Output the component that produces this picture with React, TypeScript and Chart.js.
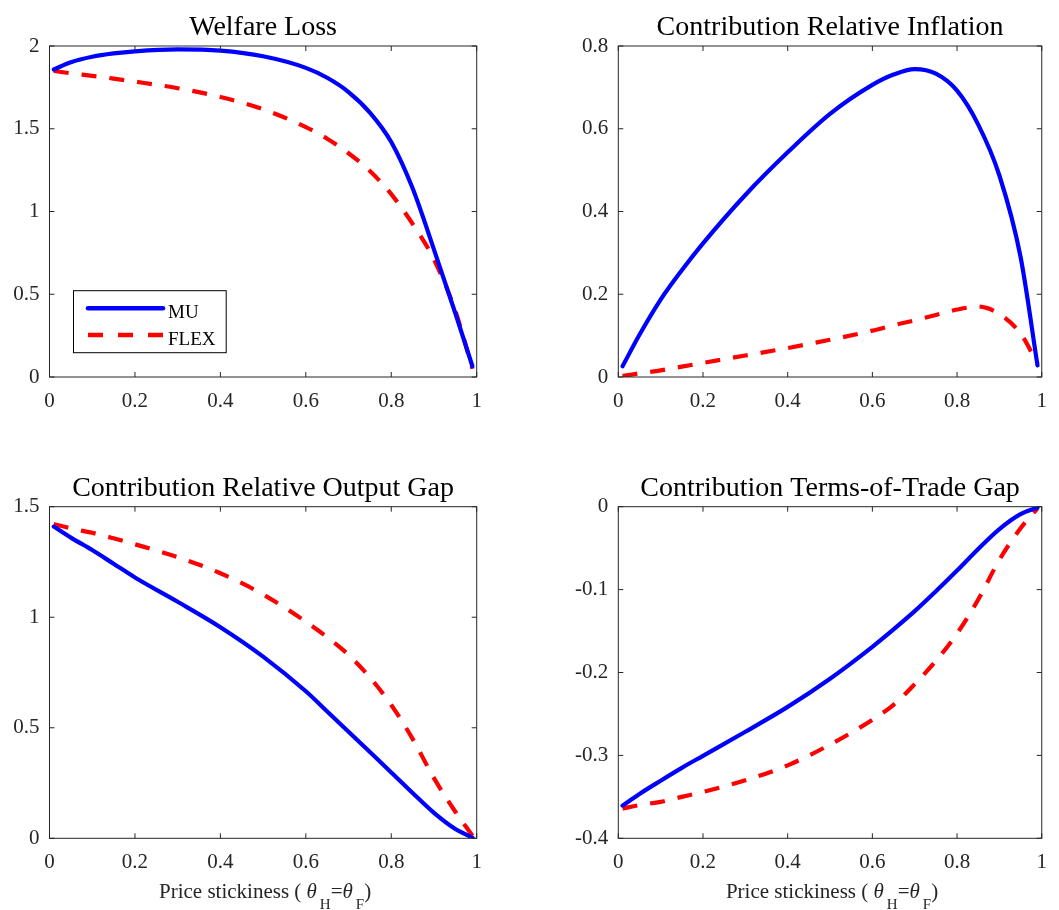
import React, { useEffect, useRef } from "react";
import { Chart, registerables } from "chart.js";

Chart.register(...registerables);

// ---------- data ----------
const theta = [0.01, 0.05, 0.1, 0.15, 0.2, 0.3, 0.4, 0.5, 0.6, 0.65, 0.7, 0.75, 0.8, 0.85, 0.9, 0.95, 0.99];
const seriesNames = ["MU", "FLEX"];

const welfareMU = [1.858, 1.902, 1.935, 1.955, 1.968, 1.98, 1.972, 1.938, 1.868, 1.808, 1.722, 1.598, 1.42, 1.14, 0.77, 0.385, 0.065];
const welfareFLEX = [1.849, 1.835, 1.82, 1.803, 1.785, 1.745, 1.692, 1.618, 1.51, 1.44, 1.352, 1.245, 1.105, 0.925, 0.71, 0.4, 0.05];

const inflationMU = [0.026, 0.102, 0.187, 0.258, 0.323, 0.44, 0.543, 0.636, 0.706, 0.731, 0.744, 0.733, 0.692, 0.61, 0.487, 0.29, 0.028];
const inflationFLEX = [0.002, 0.009, 0.016, 0.025, 0.034, 0.052, 0.07, 0.09, 0.112, 0.125, 0.137, 0.15, 0.163, 0.17, 0.152, 0.105, 0.032];

const outputMU = [1.41, 1.36, 1.304, 1.242, 1.18, 1.07, 0.955, 0.822, 0.665, 0.574, 0.482, 0.39, 0.298, 0.205, 0.115, 0.042, 0.003];
const outputFLEX = [1.422, 1.402, 1.382, 1.357, 1.33, 1.272, 1.199, 1.103, 0.98, 0.91, 0.83, 0.728, 0.603, 0.45, 0.272, 0.12, 0.012];

const totMU = [-0.3606, -0.3465, -0.3305, -0.315, -0.3005, -0.2715, -0.2415, -0.2075, -0.169, -0.148, -0.126, -0.102, -0.077, -0.051, -0.027, -0.009, -0.001];
const totFLEX = [-0.364, -0.36, -0.356, -0.35, -0.344, -0.33, -0.312, -0.287, -0.257, -0.239, -0.214, -0.186, -0.153, -0.112, -0.064, -0.026, -0.002];

const titles = [
  "Welfare Loss",
  "Contribution Relative Inflation",
  "Contribution Relative Output Gap",
  "Contribution Terms-of-Trade Gap",
];
const xLabelParts = ["Price stickiness ( ", "θ", "H", "=", "θ", "F", ")"];

const yMins = [0, 0, 0, -0.4];
const yMaxs = [2, 0.8, 1.5, 0];
const ySteps = [0.5, 0.2, 0.5, 0.1];
const xTickStep = 0.2;

// ---------- layout ----------
const SERIF = '"Liberation Serif", "Times New Roman", serif';
const AXIS_COLOR = "#262626";
const YW = 45;
const XH = 40;

type Panel = {
  title: string;
  mu: number[];
  flex: number[];
  yMin: number;
  yMax: number;
  yStep: number;
  legend: boolean;
  xlabel: boolean;
  left: number;
  top: number;
  w: number;
  h: number;
  area: { l: number; r: number; t: number; b: number };
};

const panels: Panel[] = [
  { title: titles[0], mu: welfareMU, flex: welfareFLEX, yMin: yMins[0], yMax: yMaxs[0], yStep: ySteps[0], legend: true, xlabel: false,
    left: 0, top: 0, w: 530, h: 450, area: { l: 49.5, r: 476.7, t: 46, b: 377 } },
  { title: titles[1], mu: inflationMU, flex: inflationFLEX, yMin: yMins[1], yMax: yMaxs[1], yStep: ySteps[1], legend: false, xlabel: false,
    left: 530, top: 0, w: 529, h: 450, area: { l: 88.3, r: 516.7, t: 46, b: 377 } },
  { title: titles[2], mu: outputMU, flex: outputFLEX, yMin: yMins[2], yMax: yMaxs[2], yStep: ySteps[2], legend: false, xlabel: true,
    left: 0, top: 450, w: 530, h: 460, area: { l: 49.5, r: 476.7, t: 56.7, b: 388.3 } },
  { title: titles[3], mu: totMU, flex: totFLEX, yMin: yMins[3], yMax: yMaxs[3], yStep: ySteps[3], legend: false, xlabel: true,
    left: 530, top: 450, w: 529, h: 460, area: { l: 88.3, r: 516.7, t: 56.7, b: 388.3 } },
];

const fmt = (v: number) => String(Math.round(v * 100) / 100);

function makePlugin(p: Panel) {
  return {
    id: "matlabDeco",
    afterDatasetsDraw(chart: any) {
      const { ctx, chartArea: a, scales } = chart;
      const xs = scales.x;
      const ys = scales.y;
      ctx.save();
      ctx.strokeStyle = AXIS_COLOR;
      ctx.lineWidth = 1;
      ctx.setLineDash([]);
      ctx.strokeRect(a.left, a.top, a.right - a.left, a.bottom - a.top);
      const tl = 5;
      ctx.beginPath();
      xs.ticks.forEach((t: any) => {
        const px = xs.getPixelForValue(t.value);
        ctx.moveTo(px, a.bottom);
        ctx.lineTo(px, a.bottom - tl);
        ctx.moveTo(px, a.top);
        ctx.lineTo(px, a.top + tl);
      });
      ys.ticks.forEach((t: any) => {
        const py = ys.getPixelForValue(t.value);
        ctx.moveTo(a.left, py);
        ctx.lineTo(a.left + tl, py);
        ctx.moveTo(a.right, py);
        ctx.lineTo(a.right - tl, py);
      });
      ctx.stroke();
      ctx.restore();
    },
    afterDraw(chart: any) {
      const { ctx, chartArea: a } = chart;
      ctx.save();
      // title
      ctx.fillStyle = "#000";
      ctx.font = `28px ${SERIF}`;
      ctx.textAlign = "center";
      ctx.textBaseline = "alphabetic";
      ctx.fillText(p.title, (a.left + a.right) / 2, a.top - 11);

      // legend
      if (p.legend) {
        const lx = a.left + 24;
        const ly = a.bottom - 86.3;
        const lw = 152.7;
        const lh = 62;
        ctx.fillStyle = "#fff";
        ctx.fillRect(lx, ly, lw, lh);
        ctx.strokeStyle = "#000";
        ctx.lineWidth = 1;
        ctx.strokeRect(lx, ly, lw, lh);
        const rows = [
          { y: ly + 17.6, color: "#0000ff", dash: [] as number[], label: seriesNames[0] },
          { y: ly + 44.3, color: "#ff0000", dash: [15, 15], label: seriesNames[1] },
        ];
        rows.forEach((r) => {
          ctx.beginPath();
          ctx.strokeStyle = r.color;
          ctx.lineWidth = 4.5;
          ctx.lineCap = r.dash.length ? "butt" : "round";
          ctx.setLineDash(r.dash);
          ctx.moveTo(lx + 14.5, r.y);
          ctx.lineTo(lx + 89.5, r.y);
          ctx.stroke();
          ctx.setLineDash([]);
          ctx.fillStyle = "#000";
          ctx.font = `19px ${SERIF}`;
          ctx.textAlign = "left";
          ctx.textBaseline = "alphabetic";
          ctx.fillText(r.label, lx + 94.5, r.y + 10);
        });
      }

      // x label with subscripts
      if (p.xlabel) {
        const main = `21px ${SERIF}`;
        const ital = `italic 21px ${SERIF}`;
        const sub = `15px ${SERIF}`;
        const segs = [
          { t: xLabelParts[0], f: main, dy: 0, gap: 0 },
          { t: xLabelParts[1], f: ital, dy: 0, gap: 3 },
          { t: xLabelParts[2], f: sub, dy: 11, gap: 0 },
          { t: xLabelParts[3], f: main, dy: 0, gap: 0 },
          { t: xLabelParts[4], f: ital, dy: 0, gap: 3 },
          { t: xLabelParts[5], f: sub, dy: 11, gap: 0 },
          { t: xLabelParts[6], f: main, dy: 0, gap: 0 },
        ];
        let total = 0;
        const widths = segs.map((s) => {
          ctx.font = s.f;
          const w = ctx.measureText(s.t).width + s.gap;
          total += w;
          return w;
        });
        let x = (a.left + a.right) / 2 - total / 2 + 2;
        const base = a.bottom + 59.7;
        ctx.fillStyle = AXIS_COLOR;
        ctx.textAlign = "left";
        ctx.textBaseline = "alphabetic";
        segs.forEach((s, i) => {
          ctx.font = s.f;
          ctx.fillText(s.t, x, base + s.dy);
          x += widths[i];
        });
      }
      ctx.restore();
    },
  };
}

function PanelChart({ p }: { p: Panel }) {
  const ref = useRef<HTMLCanvasElement | null>(null);
  useEffect(() => {
    if (!ref.current) return;
    const tickFont = { family: SERIF, size: 21 };
    const chart = new Chart(ref.current, {
      type: "line",
      data: {
        datasets: [
          {
            label: seriesNames[0],
            data: theta.map((t, i) => ({ x: t, y: p.mu[i] })),
            borderColor: "#0000ff",
            borderWidth: 4.2,
            pointRadius: 0,
            cubicInterpolationMode: "monotone",
            borderCapStyle: "round",
            borderJoinStyle: "round",
            fill: false,
          },
          {
            label: seriesNames[1],
            data: theta.map((t, i) => ({ x: t, y: p.flex[i] })),
            borderColor: "#ff0000",
            borderWidth: 4.2,
            borderDash: [15, 13],
            pointRadius: 0,
            cubicInterpolationMode: "monotone",
            borderCapStyle: "butt",
            fill: false,
          },
        ],
      },
      options: {
        animation: false,
        responsive: false,
        events: [],
        layout: {
          padding: {
            left: p.area.l - YW,
            right: p.w - p.area.r,
            top: p.area.t,
            bottom: p.h - p.area.b - XH,
          },
        },
        plugins: {
          legend: { display: false },
          title: { display: false },
          tooltip: { enabled: false },
        },
        scales: {
          x: {
            type: "linear",
            min: 0,
            max: 1,
            grid: { display: false, drawTicks: false },
            border: { display: false },
            ticks: {
              stepSize: xTickStep,
              autoSkip: false,
              maxRotation: 0,
              padding: 12,
              color: AXIS_COLOR,
              font: tickFont,
              callback: (v: any) => fmt(Number(v)),
            },
            afterFit: (s: any) => {
              s.height = XH;
            },
          },
          y: {
            type: "linear",
            min: p.yMin,
            max: p.yMax,
            grid: { display: false, drawTicks: false },
            border: { display: false },
            ticks: {
              stepSize: p.yStep,
              autoSkip: false,
              padding: 10,
              color: AXIS_COLOR,
              font: tickFont,
              callback: (v: any) => fmt(Number(v)),
            },
            afterFit: (s: any) => {
              s.width = YW;
            },
          },
        },
      },
      plugins: [makePlugin(p)],
    } as any);
    return () => chart.destroy();
  }, [p]);
  return (
    <canvas
      ref={ref}
      width={p.w}
      height={p.h}
      style={{ position: "absolute", left: p.left, top: p.top, width: p.w, height: p.h }}
    />
  );
}

export default function App() {
  return (
    <div style={{ position: "absolute", left: 0, top: 0, width: 1059, height: 910, background: "#fff", overflow: "hidden" }}>
      {panels.map((p, i) => (
        <PanelChart key={i} p={p} />
      ))}
    </div>
  );
}
